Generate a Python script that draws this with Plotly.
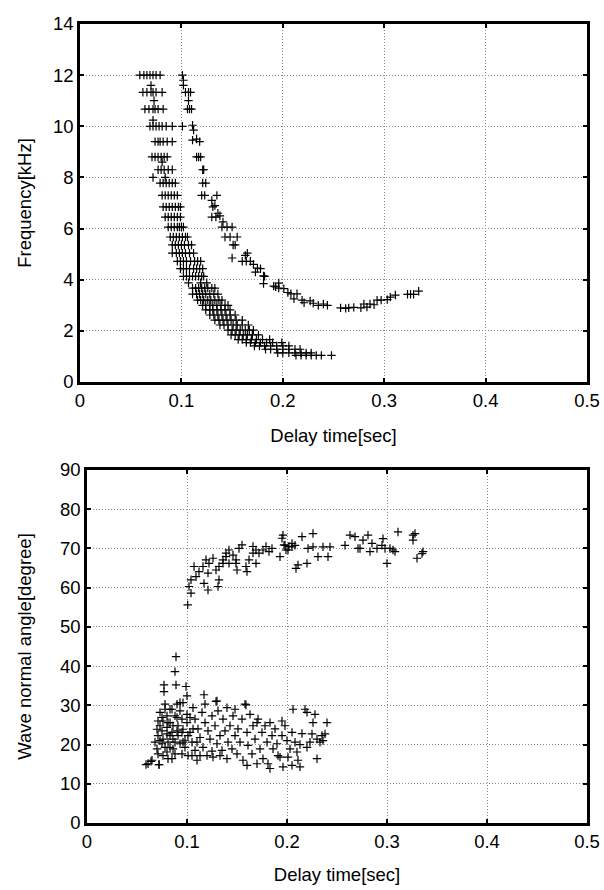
import plotly.graph_objects as go

# ---------------- Top panel: Frequency vs delay time ----------------
# lower (left) branch: frequency rows [kHz] and the delay times [s] found on each row
low_rows_f = [12.0, 11.6, 11.33, 11.0, 10.67, 10.24, 10.0, 9.4, 8.8, 8.6, 8.3, 8.0, 7.78, 7.3,
              6.85, 6.45, 6.06, 5.67, 5.36, 5.04, 4.72, 4.43, 4.13, 3.88, 3.67, 3.44, 3.2, 3.0,
              2.82, 2.62, 2.42, 2.23, 2.03, 1.84, 1.66, 1.54, 1.41, 1.28, 1.14, 1.04]
low_rows_t = [
    [0.059, 0.063, 0.066, 0.069, 0.072, 0.075, 0.079],
    [0.070],
    [0.062, 0.066, 0.070, 0.072, 0.075, 0.081],
    [0.073],
    [0.064, 0.068, 0.072, 0.074, 0.077, 0.082],
    [0.072],
    [0.069, 0.072, 0.075, 0.078, 0.081, 0.085, 0.091],
    [0.074, 0.077, 0.079, 0.082, 0.086, 0.091],
    [0.071, 0.074, 0.077, 0.080, 0.083, 0.086],
    [0.081],
    [0.077, 0.080, 0.083, 0.087, 0.091],
    [0.072, 0.084],
    [0.079, 0.082, 0.085, 0.088, 0.091, 0.094],
    [0.081, 0.084, 0.087, 0.090, 0.093, 0.096],
    [0.082, 0.085, 0.088, 0.091, 0.094, 0.097, 0.099],
    [0.084, 0.087, 0.090, 0.093, 0.096, 0.099],
    [0.087, 0.090, 0.093, 0.096, 0.098, 0.100, 0.102],
    [0.089, 0.092, 0.095, 0.098, 0.101, 0.104, 0.106],
    [0.091, 0.094, 0.097, 0.100, 0.103, 0.107, 0.110],
    [0.091, 0.095, 0.098, 0.101, 0.104, 0.108, 0.112],
    [0.096, 0.099, 0.102, 0.105, 0.109, 0.113, 0.116, 0.119],
    [0.099, 0.102, 0.105, 0.108, 0.112, 0.115, 0.118, 0.121],
    [0.102, 0.105, 0.108, 0.111, 0.114, 0.117, 0.120, 0.122],
    [0.107, 0.119, 0.125],
    [0.111, 0.114, 0.117, 0.120, 0.123, 0.126, 0.130, 0.133],
    [0.111, 0.115, 0.118, 0.121, 0.124, 0.128, 0.132, 0.136],
    [0.116, 0.119, 0.122, 0.126, 0.129, 0.133, 0.137, 0.140],
    [0.121, 0.124, 0.128, 0.131, 0.135, 0.139, 0.143, 0.146],
    [0.124, 0.128, 0.131, 0.135, 0.139, 0.143, 0.148],
    [0.128, 0.132, 0.136, 0.140, 0.144, 0.148, 0.153],
    [0.133, 0.137, 0.141, 0.145, 0.149, 0.154, 0.160],
    [0.138, 0.142, 0.146, 0.151, 0.155, 0.160, 0.166],
    [0.146, 0.150, 0.154, 0.158, 0.163, 0.167, 0.171],
    [0.149, 0.153, 0.157, 0.161, 0.165, 0.170, 0.176],
    [0.156, 0.160, 0.164, 0.169, 0.174, 0.180, 0.187],
    [0.164, 0.168, 0.173, 0.178, 0.184, 0.190, 0.199],
    [0.172, 0.177, 0.182, 0.188, 0.194, 0.200, 0.206],
    [0.183, 0.188, 0.194, 0.200, 0.206, 0.212, 0.217],
    [0.195, 0.200, 0.206, 0.212, 0.218, 0.223, 0.228],
    [0.213, 0.218, 0.223, 0.228, 0.233, 0.238, 0.248],
]

# upper (right) branch
up_t = [0.101, 0.102, 0.102, 0.104, 0.107, 0.109, 0.107, 0.106, 0.108, 0.110, 0.101, 0.111,
        0.112, 0.111, 0.115, 0.118, 0.115, 0.117, 0.119, 0.122, 0.121, 0.121, 0.124, 0.120,
        0.123, 0.135, 0.130, 0.133, 0.131, 0.136, 0.138, 0.130, 0.134, 0.141, 0.140, 0.145,
        0.150, 0.143, 0.148, 0.155, 0.151, 0.153, 0.150, 0.163, 0.165, 0.160, 0.164, 0.168,
        0.171, 0.175, 0.178, 0.173, 0.181, 0.182, 0.181, 0.191, 0.193, 0.196, 0.196, 0.201,
        0.205, 0.208, 0.214, 0.211, 0.219, 0.221, 0.227, 0.230, 0.235, 0.240, 0.244, 0.257,
        0.262, 0.265, 0.270, 0.277, 0.283, 0.280, 0.286, 0.290, 0.293, 0.297, 0.303, 0.306,
        0.311, 0.323, 0.326, 0.329, 0.334]
up_f = [12.0, 11.8, 11.6, 11.33, 11.33, 11.33, 11.0, 10.67, 10.67, 10.67, 10.0, 10.04,
        9.85, 9.46, 9.5, 9.4, 8.8, 8.8, 8.8, 8.3, 8.3, 7.78, 7.78, 7.3,
        7.3, 7.3, 7.1, 6.9, 6.85, 6.6, 6.5, 6.45, 6.45, 6.26, 6.06, 6.06,
        6.06, 5.67, 5.67, 5.67, 5.36, 5.36, 4.85, 4.95, 5.04, 4.72, 4.72, 4.72,
        4.6, 4.45, 4.43, 4.3, 4.15, 4.13, 3.85, 3.75, 3.72, 3.87, 3.67, 3.65,
        3.5, 3.45, 3.45, 3.25, 3.2, 3.1, 3.17, 3.08, 3.0, 3.05, 3.0, 2.9,
        2.88, 2.9, 2.92, 2.9, 2.93, 3.05, 3.05, 3.02, 3.2, 3.2, 3.22, 3.32,
        3.4, 3.43, 3.43, 3.43, 3.55]

# ---------------- Bottom panel: wave normal angle vs delay time ----------------
ang_hi_t = [0.1007, 0.104, 0.102, 0.104, 0.109, 0.112, 0.107, 0.116, 0.119, 0.122, 0.126,
            0.121, 0.117, 0.121, 0.131, 0.132, 0.129, 0.132, 0.136, 0.139, 0.142, 0.146,
            0.149, 0.152, 0.155, 0.150, 0.142, 0.139, 0.136, 0.159, 0.162, 0.166, 0.169,
            0.172, 0.176, 0.179, 0.182, 0.185, 0.166, 0.160, 0.169, 0.193, 0.195, 0.197,
            0.199, 0.202, 0.205, 0.209, 0.149,
            0.196, 0.198, 0.201, 0.205, 0.208, 0.211, 0.220, 0.215, 0.226, 0.221, 0.226,
            0.231, 0.236, 0.241, 0.243, 0.258, 0.263, 0.268, 0.273, 0.276, 0.281, 0.285,
            0.283, 0.290, 0.295, 0.298, 0.300, 0.296, 0.306, 0.308, 0.311, 0.326, 0.328,
            0.326, 0.330, 0.335, 0.336, 0.271, 0.303]
ang_hi_a = [55.6, 58.6, 60.3, 62.0, 62.8, 64.1, 65.4, 65.4, 67.1, 66.2, 67.5,
            63.7, 61.1, 59.4, 60.3, 62.0, 64.5, 65.4, 67.1, 68.8, 69.6, 68.3,
            67.1, 70.0, 70.9, 64.5, 66.2, 67.9, 66.2, 65.4, 67.1, 68.8, 69.6,
            68.8, 69.6, 70.5, 69.2, 70.0, 70.5, 64.1, 66.2, 67.9, 72.6, 70.9,
            69.6, 70.5, 71.3, 64.9, 66.2,
            73.4, 70.8, 69.6, 70.4, 70.8, 65.8, 66.2, 73.0, 73.8, 70.0, 70.4,
            67.9, 70.4, 67.9, 70.4, 70.8, 73.4, 73.0, 70.0, 72.1, 73.4, 71.3,
            69.2, 70.0, 70.8, 70.0, 66.2, 72.5, 69.6, 69.2, 74.2, 73.4, 73.8,
            72.1, 67.5, 68.7, 69.2, 70.0, 70.0]

ang_lo_t = [0.089, 0.088, 0.077, 0.089, 0.077, 0.099, 0.117, 0.129, 0.159,
            0.059, 0.064, 0.072,
            0.061, 0.065, 0.072, 0.068, 0.070, 0.071, 0.073, 0.075, 0.073, 0.076,
            0.075, 0.076, 0.078, 0.078, 0.080, 0.080, 0.080, 0.081, 0.081, 0.071,
            0.083, 0.085, 0.085, 0.086, 0.086, 0.088, 0.088, 0.090, 0.091, 0.091,
            0.093, 0.093, 0.095, 0.095, 0.096, 0.096, 0.098, 0.098, 0.100, 0.100,
            0.100, 0.101, 0.085, 0.083, 0.090,
            0.103, 0.105, 0.106, 0.108, 0.108, 0.110, 0.111, 0.113, 0.115, 0.116,
            0.118, 0.118, 0.120, 0.121, 0.123, 0.125, 0.125, 0.126, 0.105, 0.113,
            0.128, 0.130, 0.130, 0.131, 0.133, 0.135, 0.136, 0.138, 0.140, 0.140,
            0.141, 0.143, 0.145, 0.146, 0.148, 0.148, 0.150, 0.151, 0.153, 0.133,
            0.155, 0.156, 0.158, 0.160, 0.161, 0.163, 0.165, 0.166, 0.168, 0.170,
            0.171, 0.173, 0.175, 0.176, 0.178, 0.180, 0.160, 0.170,
            0.181, 0.183, 0.183, 0.185, 0.186, 0.188, 0.190, 0.191, 0.193, 0.195,
            0.195, 0.196, 0.198, 0.200, 0.201, 0.203, 0.205, 0.205, 0.206,
            0.208, 0.210, 0.211, 0.213, 0.215, 0.218, 0.220, 0.220, 0.223, 0.225,
            0.226, 0.228, 0.230, 0.230, 0.233, 0.235, 0.238, 0.240, 0.236, 0.213,
            0.075, 0.076, 0.080, 0.081, 0.083, 0.086, 0.088, 0.073, 0.070, 0.071,
            0.078, 0.083, 0.093, 0.095, 0.096, 0.090, 0.101, 0.103, 0.106, 0.110]
ang_lo_a = [42.4, 38.6, 35.2, 35.2, 33.5, 34.8, 32.7, 31.0, 30.1,
            14.9, 15.7, 14.9,
            15.1, 16.0, 14.9, 20.6, 18.9, 22.3, 24.8, 26.9, 28.2, 26.0,
            23.5, 21.4, 19.3, 29.0, 27.3, 24.4, 22.7, 20.6, 16.4, 17.6,
            25.6, 29.0, 23.1, 21.4, 18.9, 27.3, 17.6, 30.3, 24.8, 22.3,
            20.2, 28.6, 26.5, 17.6, 23.9, 30.7, 21.1, 19.3, 27.7, 25.6,
            32.4, 17.2, 16.4, 19.3, 23.5,
            23.1, 20.6, 29.4, 26.5, 18.5, 16.0, 24.0, 21.8, 28.2, 19.3,
            30.3, 25.6, 17.2, 23.5, 21.4, 27.3, 18.3, 16.8, 17.2, 17.2,
            24.8, 31.1, 20.2, 28.6, 22.3, 18.5, 26.5, 23.5, 29.4, 16.4,
            20.6, 24.8, 18.9, 27.3, 29.0, 22.3, 17.6, 24.0, 20.6, 17.2,
            26.5, 16.0, 30.3, 23.1, 19.8, 27.7, 17.6, 24.8, 21.4, 15.1,
            26.5, 18.9, 23.1, 16.4, 24.8, 20.6, 14.7, 25.6,
            15.1, 13.9, 25.6, 22.3, 18.9, 24.0, 20.2, 17.2, 16.8, 26.0,
            22.3, 14.3, 24.8, 21.0, 16.8, 18.9, 23.1, 14.7, 29.0,
            20.6, 18.1, 16.0, 14.3, 22.8, 29.0, 28.2, 19.3, 20.6, 22.7,
            25.6, 27.7, 16.4, 21.4, 20.6, 22.3, 22.7, 25.6, 21.0, 20.0,
            20.2, 17.2, 18.1, 25.6, 22.3, 24.8, 20.6, 21.0, 23.9, 26.0,
            30.3, 29.0, 30.7, 23.1, 20.6, 26.9, 22.3, 26.9, 24.0, 20.6]

# flatten the lower-branch rows
low_t, low_f = [], []
for f, ts in zip(low_rows_f, low_rows_t):
    for t in ts:
        low_t.append(t)
        low_f.append(f)

x_ticks = [0, 0.1, 0.2, 0.3, 0.4, 0.5]
x_ticklabels = ["0", "0.1", "0.2", "0.3", "0.4", "0.5"]

marker = dict(symbol="cross-thin-open", size=6, color="black",
              line=dict(color="black", width=1.2))

fig = go.Figure()
fig.add_trace(go.Scatter(x=low_t + up_t, y=low_f + up_f, mode="markers",
                         marker=marker, xaxis="x", yaxis="y", showlegend=False))
fig.add_trace(go.Scatter(x=ang_hi_t + ang_lo_t, y=ang_hi_a + ang_lo_a, mode="markers",
                         marker=marker, xaxis="x2", yaxis="y2", showlegend=False))

font = dict(family="Liberation Sans, Arial, sans-serif", size=18.5, color="black")
axis_common = dict(showline=True, linewidth=2.5, linecolor="black", mirror="ticks",
                   ticks="inside", ticklen=4, tickwidth=2, tickcolor="black",
                   showgrid=True, gridcolor="#8a8a8a", griddash="1px,2px", gridwidth=1,
                   zeroline=False, tickfont=font, automargin=False)

fig.update_layout(
    width=604, height=890,
    margin=dict(l=0, r=0, t=0, b=0),
    paper_bgcolor="white", plot_bgcolor="white",
    font=font,
    xaxis=dict(domain=[80/604, 587/604], range=[0, 0.5], tickvals=x_ticks,
               ticktext=x_ticklabels, anchor="y",
               title=dict(text="Delay time[sec]", font=font, standoff=20), **axis_common),
    yaxis=dict(domain=[(890-382)/890, (890-24)/890], range=[0, 14], dtick=2, anchor="x",
               title=dict(text="Frequency[kHz]", font=font, standoff=17), **axis_common),
    xaxis2=dict(domain=[87/604, 587/604], range=[0, 0.5], tickvals=x_ticks,
                ticktext=x_ticklabels, anchor="y2",
                title=dict(text="Delay time[sec]", font=font, standoff=18), **axis_common),
    yaxis2=dict(domain=[(890-823)/890, (890-470)/890], range=[0, 90], dtick=10, anchor="x2",
                title=dict(text="Wave normal angle[degree]", font=font, standoff=24),
                **axis_common),
)

fig.write_html("out.html")
